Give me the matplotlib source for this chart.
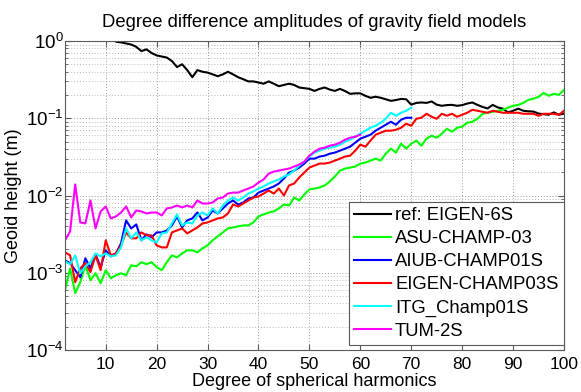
import matplotlib
matplotlib.use("Agg")
import matplotlib.pyplot as plt
from matplotlib.ticker import LogLocator, FixedLocator, NullFormatter

# degree difference amplitudes (geoid height, m)
degrees_full = list(range(2, 101))
degrees_70 = list(range(2, 71))
degrees_60 = list(range(2, 61))

eigen6s = [
    3.0, 2.6, 2.2, 2.0, 1.8, 1.6, 1.5, 1.35, 1.25, 1.1,
    0.98, 0.96, 0.93, 0.90, 0.84, 0.74, 0.78, 0.70, 0.65, 0.63,
    0.61, 0.55, 0.46, 0.50, 0.42, 0.34, 0.42, 0.40, 0.39, 0.37,
    0.35, 0.37, 0.40, 0.37, 0.34, 0.32, 0.30, 0.30, 0.29, 0.28,
    0.30, 0.28, 0.26, 0.27, 0.28, 0.27, 0.25, 0.245, 0.24, 0.226,
    0.24, 0.25, 0.235, 0.226, 0.24, 0.225, 0.207, 0.21, 0.21, 0.195,
    0.184, 0.19, 0.184, 0.176, 0.168, 0.172, 0.178, 0.176, 0.150, 0.158,
    0.160, 0.158, 0.165, 0.150, 0.145, 0.148, 0.149, 0.145, 0.148, 0.155,
    0.160, 0.149, 0.140, 0.134, 0.149, 0.138, 0.133, 0.119, 0.125, 0.133,
    0.125, 0.123, 0.122, 0.115, 0.113, 0.111, 0.119, 0.111, 0.115,
]

asu_champ03 = [
    0.000594, 0.00114, 0.000544, 0.000754, 0.00125, 0.000800, 0.000985, 0.000732, 0.00108, 0.000849,
    0.000928, 0.000985, 0.000928, 0.00125, 0.00121, 0.00137, 0.00129, 0.00137, 0.00118, 0.00108,
    0.00137, 0.00168, 0.00158, 0.00178, 0.00195, 0.00195, 0.00184, 0.00207, 0.00226, 0.00263,
    0.00296, 0.00333, 0.00375, 0.00386, 0.00398, 0.00410, 0.00410, 0.00448, 0.00536, 0.00568,
    0.00603, 0.00622, 0.00680, 0.00765, 0.00743, 0.00942, 0.00862, 0.0103, 0.0120, 0.0123,
    0.0127, 0.0135, 0.0152, 0.0176, 0.0210, 0.0223, 0.0230, 0.0237, 0.0259, 0.0267,
    0.0283, 0.0300, 0.0283, 0.0348, 0.0404, 0.0359, 0.0469, 0.0404, 0.0469, 0.0513,
    0.0442, 0.0544, 0.0594, 0.0560, 0.0631, 0.0732, 0.0669, 0.0754, 0.0777, 0.0875,
    0.0901, 0.0985, 0.114, 0.118, 0.121, 0.125, 0.129, 0.137, 0.145, 0.149,
    0.158, 0.173, 0.179, 0.189, 0.213, 0.195, 0.207, 0.201, 0.233,
]

aiub_champ01s = [
    0.00145, 0.00133, 0.00108, 0.000875, 0.00154, 0.00114, 0.00173, 0.00118, 0.00195, 0.00163,
    0.00178, 0.00240, 0.00476, 0.00375, 0.00422, 0.00263, 0.00314, 0.00287, 0.00333, 0.00333,
    0.00353, 0.00410, 0.00536, 0.00386, 0.00476, 0.00505, 0.00603, 0.00476, 0.00520, 0.00640,
    0.00586, 0.00680, 0.00788, 0.00862, 0.00765, 0.00812, 0.00915, 0.00942, 0.0109, 0.0116,
    0.0123, 0.0131, 0.0143, 0.0166, 0.0198, 0.0210, 0.0230, 0.0259, 0.0300, 0.0300,
    0.0319, 0.0328, 0.0348, 0.0359, 0.0381, 0.0404, 0.0429, 0.0483, 0.0544, 0.0577,
    0.0612, 0.0690, 0.0754, 0.0824, 0.0901, 0.0824, 0.0956, 0.1015, 0.1015,
]

eigen_champ03s = [
    0.00184, 0.00168, 0.000754, 0.00114, 0.00133, 0.00102, 0.00168, 0.00108, 0.00263, 0.00168,
    0.00178, 0.00226, 0.00333, 0.00279, 0.00279, 0.00333, 0.00305, 0.00305, 0.00226, 0.00213,
    0.00213, 0.00333, 0.00353, 0.00375, 0.00323, 0.00353, 0.00386, 0.00435, 0.00448, 0.00476,
    0.00505, 0.00520, 0.00586, 0.00765, 0.00721, 0.00788, 0.00862, 0.00942, 0.00971, 0.0106,
    0.0116, 0.0106, 0.0123, 0.0100, 0.0135, 0.0143, 0.0171, 0.0198, 0.0230, 0.0244,
    0.0259, 0.0259, 0.0267, 0.0283, 0.0300, 0.0319, 0.0328, 0.0381, 0.0455, 0.0429,
    0.0513, 0.0612, 0.0650, 0.0690, 0.0690, 0.0710, 0.0754, 0.0849, 0.0800, 0.0985,
    0.1015, 0.1143, 0.1046, 0.0985, 0.1143, 0.1077, 0.1143, 0.1046, 0.1110, 0.1178,
    0.1288, 0.1250, 0.1213, 0.1178, 0.1250, 0.1213, 0.1178, 0.1178, 0.1178, 0.1178,
    0.1143, 0.1143, 0.1143, 0.1077, 0.1143, 0.1143, 0.1143, 0.1110, 0.1250,
]

itg_champ01s = [
    0.00141, 0.00129, 0.00168, 0.000985, 0.00121, 0.00137, 0.00178, 0.00163, 0.00178, 0.00163,
    0.00168, 0.00213, 0.00375, 0.00279, 0.00333, 0.00263, 0.00287, 0.00263, 0.00247, 0.00323,
    0.00333, 0.00435, 0.00568, 0.00410, 0.00448, 0.00435, 0.00552, 0.00603, 0.00552, 0.00680,
    0.00586, 0.00743, 0.00862, 0.00942, 0.00862, 0.00942, 0.0106, 0.0113, 0.0123, 0.0131,
    0.0143, 0.0152, 0.0161, 0.0176, 0.0187, 0.0210, 0.0244, 0.0275, 0.0319, 0.0359,
    0.0381, 0.0404, 0.0416, 0.0429, 0.0455, 0.0497, 0.0528, 0.0577, 0.0631, 0.0690,
    0.0754, 0.0800, 0.0875, 0.0985, 0.1178, 0.1077, 0.1178, 0.1250, 0.1366,
]

tum_2s = [
    0.00263, 0.00343, 0.0139, 0.00448, 0.00435, 0.00862, 0.00375, 0.00622, 0.00721, 0.00505,
    0.00536, 0.00603, 0.00721, 0.00520, 0.00640, 0.00622, 0.00586, 0.00603, 0.00603, 0.00552,
    0.00680, 0.00700, 0.00743, 0.00700, 0.00743, 0.00700, 0.00862, 0.00788, 0.00788, 0.00812,
    0.00915, 0.00942, 0.0106, 0.0109, 0.0109, 0.0116, 0.0123, 0.0131, 0.0147, 0.0161,
    0.0192, 0.0204, 0.0210, 0.0217, 0.0223, 0.0237, 0.0251, 0.0275, 0.0328, 0.0370,
    0.0404, 0.0416, 0.0442, 0.0455, 0.0483, 0.0528, 0.0560, 0.0577, 0.0612,
]

x_ticks = list(range(10, 101, 10))

plt.rcParams.update(
    {
        "font.family": ["Liberation Sans", "DejaVu Sans"],
        "font.size": 13,
        "mathtext.fontset": "custom",
        "mathtext.rm": "Liberation Sans",
        "mathtext.it": "Liberation Sans:italic",
        "mathtext.bf": "Liberation Sans:bold",
        "axes.unicode_minus": False,
        "xtick.direction": "in",
        "ytick.direction": "in",
        "xtick.top": True,
        "ytick.right": True,
        "xtick.labelsize": 12.5,
        "ytick.labelsize": 13.5,
        "lines.linewidth": 1.5,
    }
)

fig = plt.figure(figsize=(5.81, 3.92), dpi=100)
ax = fig.add_axes([65 / 581, 1 - 350 / 392, 499 / 581, 309 / 392])

ax.plot(degrees_full, eigen6s, color="k", label="ref: EIGEN-6S")
ax.plot(degrees_full, asu_champ03, color="#00ff00", label="ASU-CHAMP-03")
ax.plot(degrees_70, aiub_champ01s, color="#0000ff", label="AIUB-CHAMP01S")
ax.plot(degrees_full, eigen_champ03s, color="#ff0000", label="EIGEN-CHAMP03S")
ax.plot(degrees_70, itg_champ01s, color="#00ffff", label="ITG_Champ01S")
ax.plot(degrees_60, tum_2s, color="#ff00ff", label="TUM-2S")

ax.set_yscale("log")
ax.set_xlim(2, 100)
ax.set_ylim(1e-4, 1)
ax.xaxis.set_major_locator(FixedLocator(x_ticks))
ax.yaxis.set_major_locator(LogLocator(base=10, numticks=10))
ax.yaxis.set_minor_locator(LogLocator(base=10, subs=range(2, 10), numticks=10))
ax.yaxis.set_minor_formatter(NullFormatter())

spine_color = "#5a5a5a"
for sp in ax.spines.values():
    sp.set_color(spine_color)
    sp.set_linewidth(0.8)
ax.tick_params(which="both", colors=spine_color, labelcolor="black")
ax.tick_params(which="major", length=4)
ax.tick_params(axis="x", which="major", pad=5)
ax.tick_params(axis="y", which="major", pad=1)
ax.tick_params(which="minor", length=2.5)

ax.grid(True, which="major", linestyle=(0, (1, 2)), color="#9a9a9a", linewidth=0.7)
ax.grid(True, which="minor", axis="y", linestyle=(0, (1, 2)), color="#b8b8b8", linewidth=0.7)

ax.set_title("Degree difference amplitudes of gravity field models", fontsize=13.3, pad=10)
ax.set_xlabel("Degree of spherical harmonics", labelpad=1)
ax.set_ylabel("Geoid height (m)", labelpad=3)

leg = ax.legend(
    loc="lower right",
    bbox_to_anchor=(1.0, 0.015),
    borderaxespad=0,
    fancybox=False,
    framealpha=1,
    edgecolor=spine_color,
    fontsize=13.3,
    handlelength=2.0,
    handletextpad=0.2,
    labelspacing=0.33,
    borderpad=0.3,
)
leg.get_frame().set_linewidth(0.8)

fig.savefig("out.png", dpi=100)
